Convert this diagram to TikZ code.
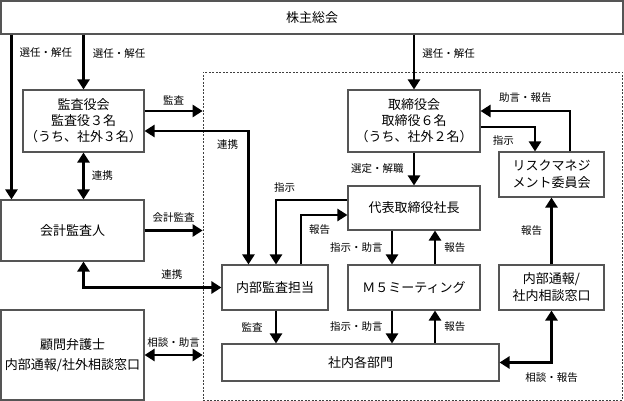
\documentclass[tikz,border=0pt]{standalone}
\usepackage{fontspec}
\setmainfont{Noto Sans CJK JP}
\usetikzlibrary{arrows.meta,positioning,calc}
\definecolor{cLine}{HTML}{555555}
\tikzset{
  org/.style={draw=cLine,line width=1.1pt,fill=white,inner sep=0pt,align=center,font=\fontsize{13}{17}\selectfont},
  dashbox/.style={draw=black!75,line width=0.7pt,dash pattern=on 2pt off 1.5pt},
  lbl/.style={inner sep=1pt,font=\fontsize{10.5}{12}\selectfont},
  arr/.style={-{Triangle[length=10pt,width=12pt]},line width=2.6pt},
  darr/.style={{Triangle[length=10pt,width=12pt]}-{Triangle[length=10pt,width=12pt]},line width=2.6pt},
}
\begin{document}
\begin{tikzpicture}[x=1pt,y=-1pt]
  \useasboundingbox (0,0) rectangle (624,401);
  % in-house frame
  \node[dashbox,minimum width=419pt,minimum height=328pt] (inhouse) at (412.5,236) {};
  % boxes
  \node[org,minimum width=622pt,minimum height=33pt] (kabu) at (312,17.5) {株主総会};
  \node[org,minimum width=121pt,minimum height=62pt] (kansa) at (83.5,121) {監査役会\\[-1pt]監査役３名\\[-1pt]（うち、社外３名）};
  \node[org,minimum width=143pt,minimum height=61pt] (kaikei) at (72.5,230.5) {会計監査人};
  \node[org,minimum width=143pt,minimum height=90pt] (bengo) at (72.5,355) {顧問弁護士\\[3pt]内部通報/社外相談窓口};
  \node[org,minimum width=132pt,minimum height=62pt] (torishimari) at (414,121) {取締役会\\[-1pt]取締役６名\\[-1pt]（うち、社外２名）};
  \node[org,minimum width=105pt,minimum height=45pt] (risk) at (551.5,174.5) {リスクマネジ\\メント委員会};
  \node[org,minimum width=132pt,minimum height=44pt] (shacho) at (414,208) {代表取締役社長};
  \node[org,minimum width=106pt,minimum height=45pt] (naibu) at (275,287.5) {内部監査担当};
  \node[org,minimum width=132pt,minimum height=45pt] (mfive) at (414,287.5) {Ｍ５ミーティング};
  \node[org,minimum width=105pt,minimum height=45pt] (tsuho) at (551.5,287.5) {内部通報/\\社内相談窓口};
  \node[org,minimum width=277pt,minimum height=37pt] (bumon) at (360.5,362.5) {社内各部門};

  % shareholders
  \coordinate (kaikeiTop) at ([xshift=11pt]kaikei.north west);
  \draw[arr] (kabu.south -| kaikeiTop) -- node[lbl,pos=0.11,right=6pt] (s1) {選任・解任} (kaikeiTop);
  \draw[arr] (kabu.south -| kansa.north) -- node[lbl,pos=0.34,right=7pt] (s2) {選任・解任} (kansa.north);
  \draw[arr] (kabu.south -| torishimari.north) -- node[lbl,pos=0.34,right=6pt] (s3) {選任・解任} (torishimari.north);

  % audit board
  \coordinate (kansaHi) at ([yshift=10pt]kansa.east);
  \coordinate (kansaLo) at ([yshift=-10pt]kansa.east);
  \coordinate (naibuL) at ([xshift=27pt]naibu.north west);
  \draw[arr] (kansaHi) -- node[lbl,above=4pt] (a1) {監査} (kansaHi -| inhouse.west);
  \draw[darr] (kansaLo) -| node[lbl,pos=0.55,left=8pt] (a2) {連携} (naibuL);
  \draw[darr] (kansa.south) -- node[lbl,right=6pt] (a3) {連携} (kansa.south |- kaikei.north);

  % accounting auditor
  \draw[arr] (kaikei.east) -- node[lbl,above=6pt] (b1) {会計監査} (kaikei.east -| inhouse.west);
  \draw[darr] (naibu.west) -| node[lbl,pos=0.18,above=6pt] (b2) {連携} (kaikei.south -| kansa.south);

  % lawyer
  \draw[darr] (bengo.east) -- node[lbl,above=5pt] (c1) {相談・助言} (bengo.east -| inhouse.west);

  % board and risk committee
  \draw[arr] ([xshift=18.5pt]risk.north) |- node[lbl,pos=0.75,above=6pt] (d1) {助言・報告} ([yshift=10pt]torishimari.east);
  \draw[arr] ([yshift=-6pt]torishimari.east) -| node[lbl,pos=0.21,below=6pt] (d2) {指示} ([xshift=-16.5pt]risk.north);
  \draw[arr] (torishimari.south) -- node[lbl,left=8pt] (d3) {選定・解職} (shacho.north);

  % president and internal audit
  \coordinate (naibuM) at ([xshift=1pt]naibu.north);
  \coordinate (naibuR) at ([xshift=26pt]naibu.north);
  \draw[arr] ([yshift=8pt]shacho.west) -| node[lbl,pos=0.44,above=5pt] (e1) {指示} (naibuM);
  \draw[arr] (naibuR) |- node[lbl,pos=0.7,below=7pt] (e2) {報告} ([yshift=-7pt]shacho.west);

  % M5 meeting
  \coordinate (mL) at ([xshift=-22pt]mfive.north);
  \coordinate (mR) at ([xshift=21pt]mfive.north);
  \draw[arr] (mL |- shacho.south) -- node[lbl,left=7pt] (f1) {指示・助言} (mL);
  \draw[arr] (mR) -- node[lbl,right=7pt] (f2) {報告} (mR |- shacho.south);
  \draw[arr] (mL |- mfive.south) -- node[lbl,left=7pt] (f3) {指示・助言} (mL |- bumon.north);
  \draw[arr] (mR |- bumon.north) -- node[lbl,right=7pt] (f4) {報告} (mR |- mfive.south);

  % departments
  \draw[arr] (naibuM |- naibu.south) -- node[lbl,left=11pt] (g1) {監査} (naibuM |- bumon.north);
  \draw[arr] (tsuho.north) -- node[lbl,left=7pt] (g2) {報告} (risk.south);
  \draw[darr] (bumon.east) -| node[lbl,below=8pt] (g3) {相談・報告} (tsuho.south);
\end{tikzpicture}
\end{document}
